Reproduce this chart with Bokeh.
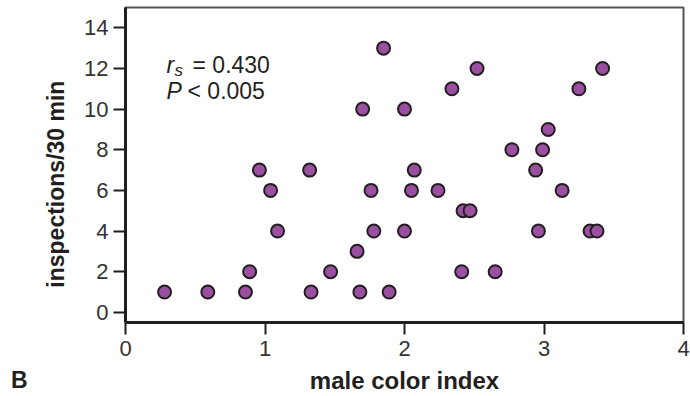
from bokeh.plotting import figure
from bokeh.models import Range1d, Label, FixedTicker
from bokeh.embed import file_html
from bokeh.resources import INLINE

# ---- data ----
color_index = [0.28, 0.59, 0.86, 0.89, 0.96, 1.04, 1.09, 1.32, 1.33, 1.47,
               1.66, 1.68, 1.70, 1.85, 1.76, 1.78, 1.89, 2.00, 2.00, 2.05,
               2.07, 2.24, 2.34, 2.52, 2.42, 2.47, 2.41, 2.65, 2.77, 2.94,
               2.99, 3.03, 2.96, 3.13, 3.25, 3.42, 3.33, 3.38]
inspections = [1, 1, 1, 2, 7, 6, 4, 7, 1, 2,
               3, 1, 10, 13, 6, 4, 1, 4, 10, 6,
               7, 6, 11, 12, 5, 5, 2, 2, 8, 7,
               8, 9, 4, 6, 11, 12, 4, 4]
x_ticks = [0, 1, 2, 3, 4]
y_ticks = [0, 2, 4, 6, 8, 10, 12, 14]
x_label = "male color index"
y_label = "inspections/30 min"
panel_letter = "B"
rs_text = "= 0.430"
p_text = "< 0.005"

FONT = "Liberation Sans"
DARK = "#231f20"

p = figure(width=690, height=396, output_backend="svg", toolbar_location=None,
           x_range=Range1d(0, 4), y_range=Range1d(-0.5, 15),
           min_border_left=125, min_border_right=7, min_border_top=7,
           min_border_bottom=74)
p.grid.visible = False
p.outline_line_color = "#555555"
p.outline_line_width = 2
p.background_fill_color = "white"
p.border_fill_color = "white"

for ax in (p.xaxis[0], p.yaxis[0]):
    ax.axis_line_width = 3
    ax.axis_line_color = DARK
    ax.major_tick_line_width = 2
    ax.major_tick_line_color = DARK
    ax.major_tick_out = 12
    ax.major_tick_in = 0
    ax.minor_tick_out = 0
    ax.minor_tick_in = 0
    ax.major_label_text_font = FONT
    ax.major_label_text_font_size = "22px"
    ax.major_label_text_color = "#333333"
    ax.axis_label_text_font = FONT
    ax.axis_label_text_font_style = "bold"
    ax.axis_label_text_color = DARK

p.xaxis[0].ticker = FixedTicker(ticks=x_ticks)
p.yaxis[0].ticker = FixedTicker(ticks=y_ticks)
p.xaxis[0].axis_label = x_label
# trailing no-break spaces shift the rotated label down, as in the reference
p.yaxis[0].axis_label = y_label + "\u00a0" * 6
p.xaxis[0].axis_label_text_font_size = "24px"
p.yaxis[0].axis_label_text_font_size = "23px"
p.xaxis[0].major_label_standoff = 6
p.yaxis[0].major_label_standoff = 5
p.xaxis[0].axis_label_standoff = 8
p.yaxis[0].axis_label_standoff = 12

p.scatter(color_index, inspections, size=13, fill_color="#9a4fa0",
          line_color=DARK, line_width=2)

ax0, ay1, ay2 = 0.294, 12.15, 10.9
p.add_layout(Label(x=ax0, y=ay1, text="r", text_font=FONT, text_font_style="italic",
                   text_font_size="23px", text_baseline="middle", text_color=DARK))
p.add_layout(Label(x=ax0, y=ay1, x_offset=8, y_offset=-5, text="s", text_font=FONT,
                   text_font_style="italic", text_font_size="17px",
                   text_baseline="middle", text_color=DARK))
p.add_layout(Label(x=ax0, y=ay1, x_offset=26, text=rs_text, text_font=FONT,
                   text_font_size="23px", text_baseline="middle", text_color=DARK))
p.add_layout(Label(x=ax0, y=ay2, text="P", text_font=FONT, text_font_style="italic",
                   text_font_size="23px", text_baseline="middle", text_color=DARK))
p.add_layout(Label(x=ax0, y=ay2, x_offset=21, text=p_text, text_font=FONT,
                   text_font_size="23px", text_baseline="middle", text_color=DARK))
# panel letter lives in the left side panel so it is not clipped to the frame
p.add_layout(Label(x=-0.82, y=-3.35, text=panel_letter, text_font=FONT,
                   text_font_style="bold", text_font_size="23px",
                   text_baseline="middle", text_color=DARK), "left")

open("out.html", "w").write(file_html(p, INLINE))
